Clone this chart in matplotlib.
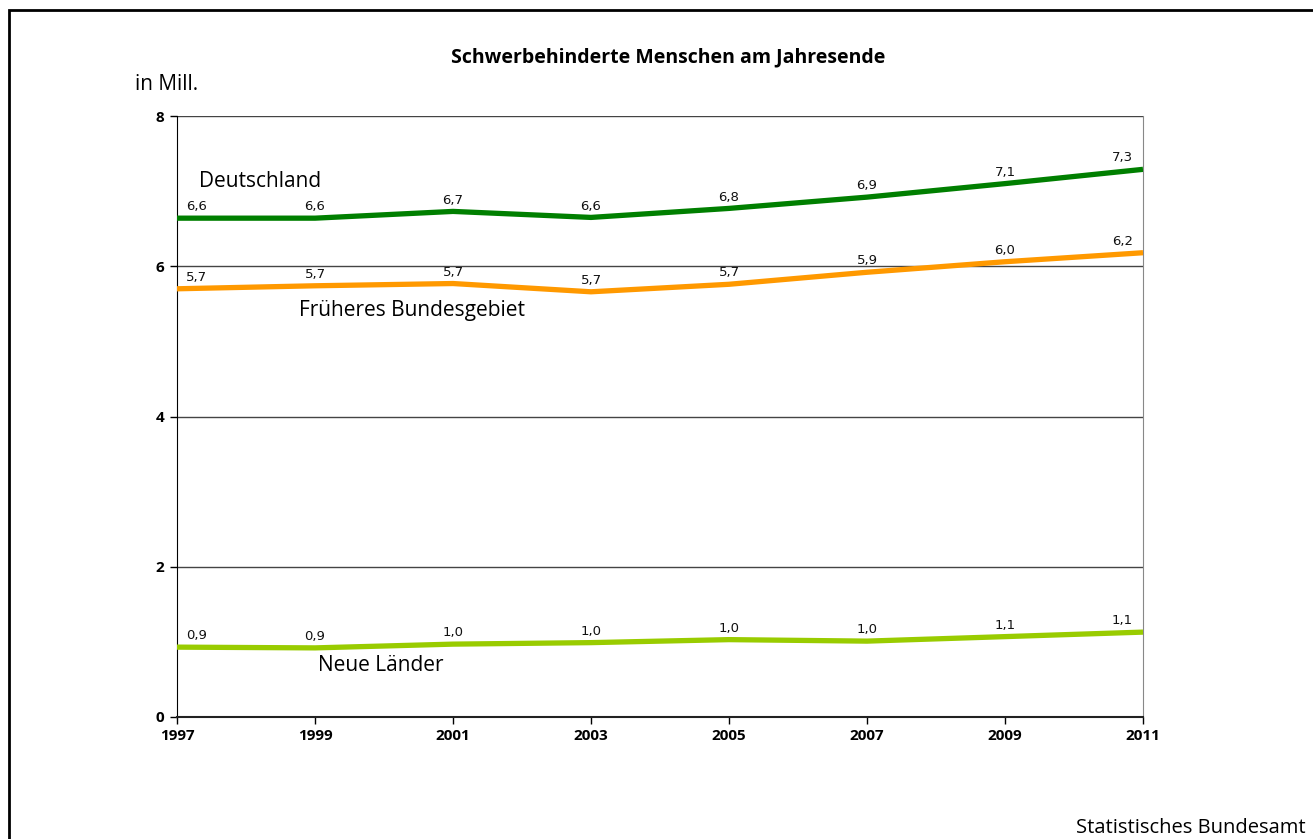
import numpy as np
import matplotlib.pyplot as plt
from matplotlib.patches import Rectangle

plt.rcParams['font.family'] = ['Open Sans', 'DejaVu Sans']

years = [1997, 1999, 2001, 2003, 2005, 2007, 2009, 2011]
deutschland = [6.64, 6.64, 6.73, 6.65, 6.77, 6.92, 7.10, 7.29]
frueheres = [5.70, 5.74, 5.77, 5.66, 5.76, 5.92, 6.06, 6.18]
neue = [0.93, 0.92, 0.97, 0.99, 1.03, 1.01, 1.07, 1.13]

lab_de = ['6,6', '6,6', '6,7', '6,6', '6,8', '6,9', '7,1', '7,3']
lab_fb = ['5,7', '5,7', '5,7', '5,7', '5,7', '5,9', '6,0', '6,2']
lab_nl = ['0,9', '0,9', '1,0', '1,0', '1,0', '1,0', '1,1', '1,1']

fig = plt.figure(figsize=(13.13, 8.39), dpi=100)
ax = fig.add_axes([177/1313, 1-717/839, (1143-177)/1313, (717-116)/839])

# frame round the whole picture
fig.patches.append(Rectangle((9/1313, -0.05), 1.1, 1-10/839+0.05,
                             transform=fig.transFigure, fill=False,
                             edgecolor='black', linewidth=2))

series = [(deutschland, lab_de, '#007f00'),
          (frueheres, lab_fb, '#ff9900'),
          (neue, lab_nl, '#99cc00')]

for vals, labs, col in series:
    ax.plot(years, vals, color=col, lw=3.8, solid_capstyle='butt', zorder=3)
    for i, (x, y, t) in enumerate(zip(years, vals, labs)):
        if i == 0:
            dx = 14
        elif i == len(years) - 1:
            dx = -15
        else:
            dx = 0
        ax.annotate(t, (x, y), xytext=(dx, 3.5), textcoords='offset points',
                    ha='center', va='bottom', fontsize=9.5, color='#111111',
                    family='DejaVu Sans')

ax.set_xlim(1997, 2011)
ax.set_ylim(0, 8)
ax.set_xticks(years)
ax.set_yticks([0, 2, 4, 6, 8])
ax.tick_params(axis='both', direction='out', length=5, width=1,
               labelsize=11, pad=4)
for lbl in ax.get_xticklabels() + ax.get_yticklabels():
    lbl.set_fontweight('bold')

for y in [2, 4, 6, 8]:
    ax.axhline(y, color='#444444', lw=1, zorder=1)

ax.spines['top'].set_visible(False)
ax.spines['left'].set_color('black')
ax.spines['bottom'].set_color('#222222')
ax.spines['bottom'].set_linewidth(1.5)
ax.spines['right'].set_color('#888888')

ax.text(1997.32, 7.13, 'Deutschland', fontsize=15, va='center', ha='left')
ax.text(1998.77, 5.41, 'Früheres Bundesgebiet', fontsize=15, va='center', ha='left')
ax.text(1999.04, 0.68, 'Neue Länder', fontsize=15, va='center', ha='left')

fig.text(668/1313, 1-57/839, 'Schwerbehinderte Menschen am Jahresende',
         ha='center', va='center', fontsize=14, fontweight='bold')
fig.text(135/1313, 1-84/839, 'in Mill.', ha='left', va='center', fontsize=15)
fig.text(1306/1313, 1-828/839, 'Statistisches Bundesamt', ha='right',
         va='center', fontsize=14.5)

fig.savefig('out.png', dpi=100)
